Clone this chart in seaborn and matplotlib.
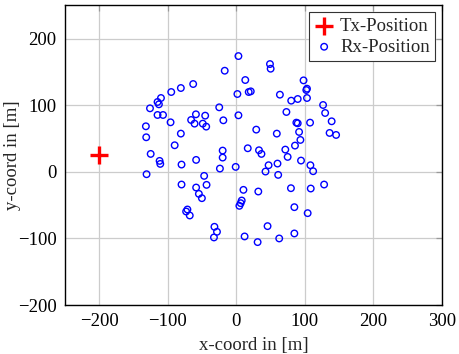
import matplotlib
matplotlib.use("Agg")
import matplotlib.pyplot as plt
import seaborn as sns
import pandas as pd

# Transmitter position
tx_x = [-200]
tx_y = [25]

# Receiver positions (metres)
rx_x = [3, -17, 13, 18, 21, 1.5, -63, -81, -95, -110, -115, -113, -126, -115, -107,
        -25, 3, -59, -45.5, -66, -61, -49, -44, -19, -96, -132, -131.5, -81, -90,
        29, 16.6, 33, -20, -20, -125, -112, -111, -80, -58.7, -1, -24, -131, -47,
        49, 50, 98, 103, 102, 63.5, 80, 89.5, 103, 126.5, 129.5, 73, 139, 87.5, 89.5,
        107.5, 59, 91.5, 136, 145.5, 93.4, 85.5, 71.4, 36.6, 74.8, 94.3, 108, 112,
        60, 47, 42.5, 61,
        10.3, 32, 7.8, 6.3, 4.4, 79.6, 108.5, 128, 84.6, 104, 45.5, 84.6, 12, 31,
        62.5, -80, -43.5, -58.7, -54.7, -50.3, -71.4, -73.3, -68, -32, -28.3, -32.7]
rx_y = [174, 152, 138, 120, 121, 117, 132, 126, 120, 111, 105, 101.5, 95.5, 85.5, 85.5,
        97, 85, 86.5, 84.5, 78, 72.5, 72.5, 68, 77.5, 74.5, 68.5, 52, 57.5, 40,
        63.5, 35.5, 32.5, 32, 21.5, 27, 16.5, 12, 11, 18, 7.5, 5, -3.5, -6,
        162, 155, 137.5, 125, 123, 116, 107, 109.5, 111, 100.5, 88.5, 90, 76, 74, 73,
        74, 57.5, 60, 58.5, 55.5, 48, 39.5, 33.5, 27, 22.5, 17, 10, 1,
        12.5, 10, 0.5, -4.5,
        -27, -29.5, -43, -47, -51, -24.5, -25, -19, -53, -62, -81.5, -92.5, -97, -105.5,
        -100, -19, -19.5, -23.5, -33, -39.5, -56.5, -59.5, -65.5, -82.5, -90, -98.5]

x_ticks = [-200, -100, 0, 100, 200, 300]
y_ticks = [-200, -100, 0, 100, 200]

FS = 13.5

sns.set_theme(style="white")
plt.rcParams["font.family"] = ["Liberation Serif", "DejaVu Serif"]

fig = plt.figure(figsize=(4.59, 3.54), dpi=100)
ax = fig.add_axes([0.1416, 0.1384, 0.8214, 0.8461])

tx = pd.DataFrame({"x": tx_x, "y": tx_y})
rx = pd.DataFrame({"x": rx_x, "y": rx_y})

sns.scatterplot(data=tx, x="x", y="y", marker="+", s=150, color="red",
                linewidth=2.4, label="Tx-Position", ax=ax, zorder=3)
sns.scatterplot(data=rx, x="x", y="y", marker="o", s=22, facecolors="none",
                edgecolor="blue", linewidth=1.0, label="Rx-Position", ax=ax, zorder=3)

ax.set_xlim(-250, 300)
ax.set_ylim(-200, 250)
ax.set_xticks(x_ticks)
ax.set_yticks(y_ticks)
ax.set_xticklabels([f"{v}".replace("-", "\u2212") for v in x_ticks])
ax.set_yticklabels([f"{v}".replace("-", "\u2212") for v in y_ticks])
ax.grid(True, color="#cccccc", linewidth=0.9)
ax.set_axisbelow(True)
ax.tick_params(direction="in", length=4, width=0.9, color="#999999",
               top=True, right=True, labelsize=FS, labelcolor="black", pad=6)
for sp in ax.spines.values():
    sp.set_color("black")
    sp.set_linewidth(1.0)

ax.set_xlabel("x-coord in [m]", fontsize=FS)
ax.set_ylabel("y-coord in [m]", fontsize=FS)
ax.xaxis.set_label_coords(0.5, -0.107)
ax.yaxis.set_label_coords(-0.117, 0.5)

leg = ax.legend(loc="upper right", fontsize=FS, frameon=True, fancybox=False,
                edgecolor="#333333", framealpha=1, borderpad=0.3, handletextpad=0.35,
                handlelength=1.0, labelspacing=0.2, borderaxespad=0.35)
leg.get_frame().set_linewidth(0.8)

fig.savefig("out.png", dpi=100)
